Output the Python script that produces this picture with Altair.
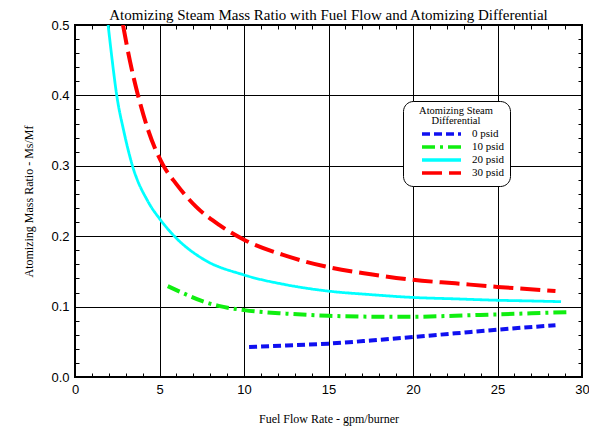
import altair as alt
import pandas as pd

# ---- data ----
series_names = ["0 psid", "10 psid", "20 psid", "30 psid"]

x_0 = [10.3, 12.5, 15.0, 17.5, 20.0, 22.5, 25.0, 28.43]
y_0 = [0.0426, 0.0447, 0.0474, 0.0518, 0.0568, 0.0620, 0.0673, 0.0734]

x_10 = [5.49, 6.5, 7.5, 8.5, 10.0, 12.5, 15.0, 17.5, 20.0, 22.5, 25.0, 27.0, 29.08]
y_10 = [0.129, 0.118, 0.108, 0.101, 0.095, 0.090, 0.087, 0.0857, 0.0855, 0.087, 0.089, 0.0905, 0.092]

x_20 = [1.96, 2.2, 2.47, 2.88, 3.4, 4.3, 5.0, 5.88, 7.55, 10.0, 12.5, 15.0, 17.5, 20.0, 22.5, 25.0, 27.0, 28.76]
y_20 = [0.5, 0.45, 0.4, 0.35, 0.3, 0.25, 0.225, 0.2, 0.168, 0.145, 0.131, 0.122, 0.117, 0.113, 0.111, 0.109, 0.108, 0.107]

x_30 = [2.84, 3.24, 3.73, 4.31, 5.19, 6.0, 7.16, 8.53, 10.0, 12.5, 15.0, 17.5, 20.0, 22.5, 25.0, 28.43]
y_30 = [0.5, 0.45, 0.4, 0.352, 0.302, 0.274, 0.242, 0.216, 0.195, 0.172, 0.156, 0.146, 0.138, 0.133, 0.128, 0.122]

x_ticks = list(range(0, 31))
y_ticks = [round(i * 0.02, 2) for i in range(0, 26)]

colors = ["#1010F0", "#10EE10", "#00FFFF", "#FF0000"]
dashes = [[8, 4], [13, 5, 3, 5], [1, 0], [20, 7]]
widths = [4, 4, 2.8, 4]

rows = []
for name, xs, ys, w in zip(series_names, [x_0, x_10, x_20, x_30], [y_0, y_10, y_20, y_30], widths):
    for i, (a, b) in enumerate(zip(xs, ys)):
        rows.append({"series": name, "x": a, "y": b, "order": i, "w": w})
df = pd.DataFrame(rows)

FS = "\u2007"
legend = alt.Legend(
    title=["Atomizing Steam", "Differential"],
    orient="none",
    legendX=328,
    legendY=76,
    symbolType="M-6.5,0H6.5",
    symbolSize=36,
    symbolStrokeWidth=3.7,
    symbolOffset=28,
    strokeColor="black",
    cornerRadius=10,
    fillColor="white",
    padding=5,
    titleFont="Liberation Serif",
    titleFontSize=10.5,
    titleFontWeight="normal",
    titleColor="black",
    titleAnchor="middle",
    titleAlign="center",
    titleLineHeight=10,
    titlePadding=2,
    labelFont="Liberation Serif",
    labelFontSize=11,
    labelColor="black",
    labelAlign="left",
    labelOffset=25,
    labelExpr="(length(datum.label) < 7 ? '" + FS + "' : '') + datum.label",
    rowPadding=-3.8,
)

x_scale = alt.Scale(domain=[0, 30], nice=False, zero=False)
y_scale = alt.Scale(domain=[0, 0.5], nice=False)

minor_x = "datum.value % 5 === 0"
minor_y = "round(datum.value * 100) % 10 === 0"

lines = alt.Chart(df).mark_line(interpolate="monotone", clip=True, strokeCap="butt").encode(
    x=alt.X("x:Q", scale=x_scale, axis=alt.Axis(
        orient="bottom", values=x_ticks, title="Fuel Flow Rate - gpm/burner",
        labelExpr=f"{minor_x} ? datum.label : ''", labelOverlap=False, labelFlush=False,
        gridOpacity={"condition": {"test": minor_x, "value": 1}, "value": 0},
        grid=True, tickSize={"expr": "-4"}, labelPadding=10, titlePadding=17)),
    y=alt.Y("y:Q", scale=y_scale, axis=alt.Axis(
        orient="left", values=y_ticks, title="Atomizing Mass Ratio - Ms/Mf",
        labelExpr=f"{minor_y} ? format(datum.value, '.1f') : ''", labelOverlap=False, labelFlush=False,
        gridOpacity={"condition": {"test": minor_y, "value": 1}, "value": 0},
        grid=True, tickSize={"expr": "-4"}, labelPadding=10, titlePadding=15)),
    color=alt.Color("series:N", scale=alt.Scale(domain=series_names, range=colors), legend=legend),
    strokeDash=alt.StrokeDash("series:N", scale=alt.Scale(domain=series_names, range=dashes), legend=legend),
    strokeWidth=alt.StrokeWidth("w:Q", scale=None),
    order="order:Q",
)

mirror = alt.Chart(df).mark_point(opacity=0).encode(
    x=alt.X("x:Q", scale=x_scale, axis=alt.Axis(
        orient="top", values=x_ticks, labels=False, grid=False, title=None,
        tickSize={"expr": "-4"})),
    y=alt.Y("y:Q", scale=y_scale, axis=alt.Axis(
        orient="right", values=y_ticks, labels=False, grid=False, title=None,
        tickSize={"expr": "-4"})),
)

chart = alt.layer(lines, mirror).properties(
    width=507,
    height=352,
    title=alt.TitleParams(
        "Atomizing Steam Mass Ratio with Fuel Flow and Atomizing Differential",
        font="Liberation Serif", fontSize=15, fontWeight="normal", color="black",
        anchor="middle", offset=-4),
    autosize=alt.AutoSizeParams(type="none"),
    padding={"left": 67, "top": 17, "right": 7, "bottom": 50},
).configure_axis(
    domain=False,
    tickColor="black",
    tickWidth=1,
    gridColor="black",
    gridWidth=1,
    labelFont="Liberation Sans",
    labelFontSize=13,
    labelColor="black",
    titleFont="Liberation Serif",
    titleFontSize=12,
    titleFontWeight="normal",
    titleColor="black",
).configure_legend(
    strokeWidth=1,
).configure_view(
    stroke="black",
    strokeWidth=2,
)

chart.save("out.html", embed_options={"renderer": "svg", "actions": False})
